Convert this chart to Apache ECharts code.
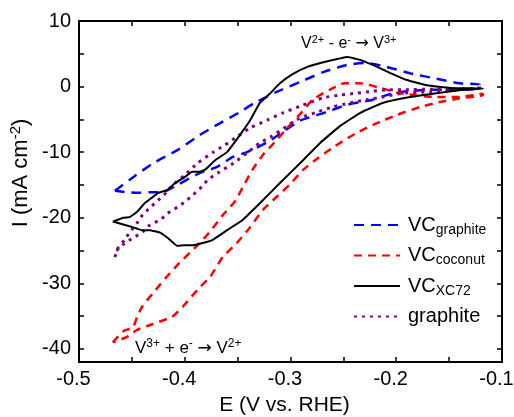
<!DOCTYPE html>
<html><head><meta charset="utf-8">
<script src="https://cdn.jsdelivr.net/npm/echarts@6/dist/echarts.min.js"></script>
<style>html,body{margin:0;padding:0;background:#fff}#c{width:514px;height:417px}</style>
</head><body><div id="c"></div>
<script>
// ---- tick values ----
const xTickVals = [-0.5,-0.45,-0.4,-0.35,-0.3,-0.25,-0.2,-0.15,-0.1];
const xLabelVals = [-0.5,-0.4,-0.3,-0.2,-0.1];
const yTickVals = [-40,-35,-30,-25,-20,-15,-10,-5,0,5,10];
const yLabelVals = [-40,-30,-20,-10,0,10];

// ---- series names ----
const seriesNames = ['VC_graphite','VC_coconut','VC_XC72','graphite'];

// ---- VC_graphite (blue) : potential (V) and current (mA cm-2) ----
const vcGraphiteE = [-0.466,-0.452,-0.430,-0.407,-0.386,-0.367,-0.349,-0.334,-0.313,-0.291,-0.269,-0.247,-0.228,-0.209,-0.186,-0.162,-0.140,-0.121,
  -0.121,-0.146,-0.168,-0.194,-0.209,-0.222,-0.247,-0.266,-0.291,-0.307,-0.322,-0.341,-0.354,-0.370,-0.386,-0.407,-0.421,-0.433,-0.445,-0.455,-0.466];
const vcGraphiteI = [-15.9,-14.2,-11.7,-9.7,-7.4,-5.6,-4.0,-2.5,-0.8,0.7,2.2,3.3,3.6,3.0,2.0,1.2,0.5,0.3,
  -0.2,-0.5,-0.5,-0.8,-1.3,-2.0,-2.8,-3.9,-5.2,-6.9,-8.5,-10.0,-10.7,-12.3,-13.2,-15.0,-16.1,-16.1,-16.2,-16.1,-15.9];

// ---- VC_coconut (red) ----
const vcCoconutE = [-0.468,-0.458,-0.449,-0.445,-0.440,-0.430,-0.417,-0.405,-0.388,-0.377,-0.364,-0.352,-0.345,-0.336,-0.326,-0.315,-0.303,-0.291,-0.279,-0.263,-0.249,-0.234,-0.215,-0.197,-0.162,-0.143,-0.118,
  -0.118,-0.140,-0.160,-0.177,-0.199,-0.220,-0.239,-0.258,-0.274,-0.288,-0.301,-0.313,-0.326,-0.338,-0.351,-0.364,-0.376,-0.388,-0.402,-0.412,-0.430,-0.445,-0.455,-0.468];
const vcCoconutI = [-39.0,-37.3,-36.7,-35.1,-33.5,-31.5,-29.0,-26.9,-24.2,-22.3,-19.6,-17.4,-15.3,-12.7,-10.4,-8.5,-6.3,-4.2,-2.0,-0.5,0.5,0.5,-0.2,-1.0,-1.6,-1.6,-1.1,
  -1.3,-1.8,-2.4,-3.1,-4.3,-5.7,-7.2,-9.1,-10.9,-12.7,-15.0,-16.8,-18.8,-21.4,-23.9,-26.0,-29.0,-31.0,-33.6,-35.1,-36.2,-37.1,-38.2,-39.0];

// ---- VC_XC72 (black) ----
const vcXC72E = [-0.468,-0.458,-0.452,-0.445,-0.438,-0.430,-0.425,-0.417,-0.409,-0.400,-0.393,-0.386,-0.381,-0.371,-0.360,-0.351,-0.338,-0.329,-0.319,-0.310,-0.298,-0.284,-0.269,-0.253,-0.246,-0.233,-0.218,-0.206,-0.190,-0.171,-0.149,-0.118,
  -0.137,-0.162,-0.187,-0.213,-0.234,-0.253,-0.272,-0.291,-0.310,-0.329,-0.345,-0.360,-0.374,-0.384,-0.392,-0.400,-0.407,-0.416,-0.423,-0.433,-0.440,-0.450,-0.463,-0.468];
const vcXC72I = [-20.6,-20.0,-19.9,-19.1,-17.8,-16.8,-16.2,-15.8,-14.7,-13.8,-13.0,-13.0,-12.7,-11.2,-10.0,-8.1,-5.1,-2.5,-1.0,0.5,1.9,3.0,3.7,4.3,4.5,4.0,3.0,2.1,1.0,0.2,-0.2,-0.3,
  -0.5,-1.0,-1.6,-2.5,-4.0,-6.0,-8.6,-11.7,-14.7,-17.8,-20.3,-21.9,-23.4,-23.9,-24.2,-24.2,-24.3,-23.1,-22.3,-21.9,-21.9,-21.4,-20.8,-20.6];

// ---- graphite (purple) ----
const graphiteE = [-0.466,-0.463,-0.457,-0.452,-0.445,-0.440,-0.433,-0.425,-0.417,-0.411,-0.400,-0.388,-0.373,-0.362,-0.351,-0.338,-0.322,-0.307,-0.291,-0.269,-0.253,-0.237,-0.222,-0.209,-0.194,-0.168,-0.143,-0.118,
  -0.143,-0.168,-0.194,-0.213,-0.228,-0.244,-0.260,-0.275,-0.291,-0.303,-0.319,-0.329,-0.341,-0.354,-0.367,-0.378,-0.384,-0.392,-0.400,-0.407,-0.416,-0.423,-0.433,-0.440,-0.449,-0.457,-0.461,-0.466];
const graphiteI = [-26.0,-24.6,-23.4,-22.2,-20.8,-19.6,-18.5,-17.3,-16.1,-15.0,-13.5,-11.7,-10.0,-8.9,-7.7,-6.3,-5.1,-4.0,-3.0,-1.7,-1.3,-1.0,-0.7,-0.5,-0.5,-0.4,-0.4,-0.2,
  -0.5,-0.8,-1.0,-1.6,-2.0,-2.5,-3.1,-3.9,-4.8,-6.0,-7.7,-8.6,-10.1,-11.7,-13.0,-14.2,-15.3,-16.5,-17.6,-18.4,-19.3,-20.3,-21.1,-22.2,-23.1,-23.9,-24.6,-25.1];

function zip(a, b) { return a.map((v, i) => [v, b[i]]); }

const FONT = 'Liberation Sans, Arial, Helvetica, sans-serif';
const chart = echarts.init(document.getElementById('c'), null, {renderer: 'canvas'});

const legendRich = {
  m: {fontSize: 20, fontFamily: FONT, color: '#000', lineHeight: 24},
  s: {fontSize: 14, fontFamily: FONT, color: '#000', verticalAlign: 'bottom', lineHeight: 14}
};
const legendText = {
  'VC_graphite': '{m|VC}{s|graphite}',
  'VC_coconut': '{m|VC}{s|coconut}',
  'VC_XC72': '{m|VC}{s|XC72}',
  'graphite': '{m|graphite}'
};

const axisLineStyle = {color: '#000', width: 2};
const tickStyle = {color: '#000', width: 1.5};
function annRich(sz) {
  return {
    n: {fontSize: sz, fontFamily: FONT, fill: '#000', lineHeight: sz + 4},
    s: {fontSize: Math.round(sz * 0.68), fontFamily: FONT, fill: '#000', verticalAlign: 'top', lineHeight: Math.round(sz * 0.68)},
    a: {fontSize: sz, fontFamily: 'DejaVu Sans', fill: '#000', lineHeight: sz + 4}
  };
}

chart.setOption({
  animation: false,
  backgroundColor: '#fff',
  grid: {left: 79, right: 12, top: 21, bottom: 55, containLabel: false, outerBoundsMode: 'none'},
  xAxis: [{
    type: 'value', min: -0.5, max: -0.1, position: 'bottom',
    name: 'E (V vs. RHE)', nameLocation: 'middle', nameGap: 33,
    nameTextStyle: {fontSize: 21, fontFamily: FONT, color: '#000', padding: [0, 12, 0, 0]},
    axisLine: {show: true, onZero: false, lineStyle: axisLineStyle},
    axisTick: {show: true, inside: true, length: 5, lineStyle: tickStyle, customValues: xTickVals},
    axisLabel: {show: true, fontSize: 20, fontFamily: FONT, color: '#000', margin: 7, customValues: xLabelVals,
      padding: [0, 11, 0, 0], formatter: v => v.toFixed(1)},
    splitLine: {show: false}
  }, {
    type: 'value', min: -0.5, max: -0.1, position: 'top',
    axisLine: {show: true, onZero: false, lineStyle: axisLineStyle},
    axisTick: {show: true, inside: true, length: 5, lineStyle: tickStyle, customValues: xTickVals},
    axisLabel: {show: false},
    splitLine: {show: false}
  }],
  yAxis: [{
    type: 'value', min: -42, max: 10, position: 'left',
    axisLine: {show: true, onZero: false, lineStyle: axisLineStyle},
    axisTick: {show: true, inside: true, length: 5, lineStyle: tickStyle, customValues: yTickVals},
    axisLabel: {show: true, fontSize: 20, fontFamily: FONT, color: '#000', margin: 8, customValues: yLabelVals},
    splitLine: {show: false}
  }, {
    type: 'value', min: -42, max: 10, position: 'right',
    axisLine: {show: true, onZero: false, lineStyle: axisLineStyle},
    axisTick: {show: true, inside: true, length: 5, lineStyle: tickStyle, customValues: yTickVals},
    axisLabel: {show: false},
    splitLine: {show: false}
  }],
  legend: {
    orient: 'vertical', left: 348, top: 210, itemWidth: 46, itemHeight: 12, itemGap: 8.5,
    data: seriesNames,
    formatter: n => legendText[n],
    itemStyle: {opacity: 0},
    textStyle: {rich: legendRich, padding: [0, 0, 0, 3]},
    selectedMode: false
  },
  graphic: [{
    type: 'text', x: 21, y: 173, rotation: Math.PI / 2,
    style: {
      text: '{n|I (mA cm}{s|-2}{n|)}',
      align: 'center', verticalAlign: 'middle',
      rich: {
        n: {fontSize: 22, fontFamily: FONT, fill: '#000', lineHeight: 26},
        s: {fontSize: 15, fontFamily: FONT, fill: '#000', verticalAlign: 'top', lineHeight: 15}
      }
    }
  }, {
    type: 'text', left: 301, top: 34,
    style: {text: '{n|V}{s|2+}{n| - e}{s|-}{n| }{a|\u2192}{n| V}{s|3+}', rich: annRich(16)}
  }, {
    type: 'text', left: 135, top: 338,
    style: {text: '{n|V}{s|3+}{n| + e}{s|-}{n| }{a|\u2192}{n| V}{s|2+}', rich: annRich(17)}
  }],
  series: [{
    name: 'VC_graphite', type: 'line', symbol: 'none', smooth: 0.2,
    data: zip(vcGraphiteE, vcGraphiteI),
    lineStyle: {color: '#0000ff', width: 2.5, type: [10, 7]},
    itemStyle: {color: '#0000ff'}, z: 3
  }, {
    name: 'VC_coconut', type: 'line', symbol: 'none', smooth: 0.2,
    data: zip(vcCoconutE, vcCoconutI),
    lineStyle: {color: '#ff0000', width: 2.5, type: [8, 6]},
    itemStyle: {color: '#ff0000'}, z: 3
  }, {
    name: 'VC_XC72', type: 'line', symbol: 'none', smooth: 0.1,
    data: zip(vcXC72E, vcXC72I),
    lineStyle: {color: '#000000', width: 2},
    itemStyle: {color: '#000000'}, z: 4
  }, {
    name: 'graphite', type: 'line', symbol: 'none', smooth: 0.2,
    data: zip(graphiteE, graphiteI),
    lineStyle: {color: '#800080', width: 3, type: [3, 5]},
    itemStyle: {color: '#800080'}, z: 3
  }]
});
</script></body></html>
